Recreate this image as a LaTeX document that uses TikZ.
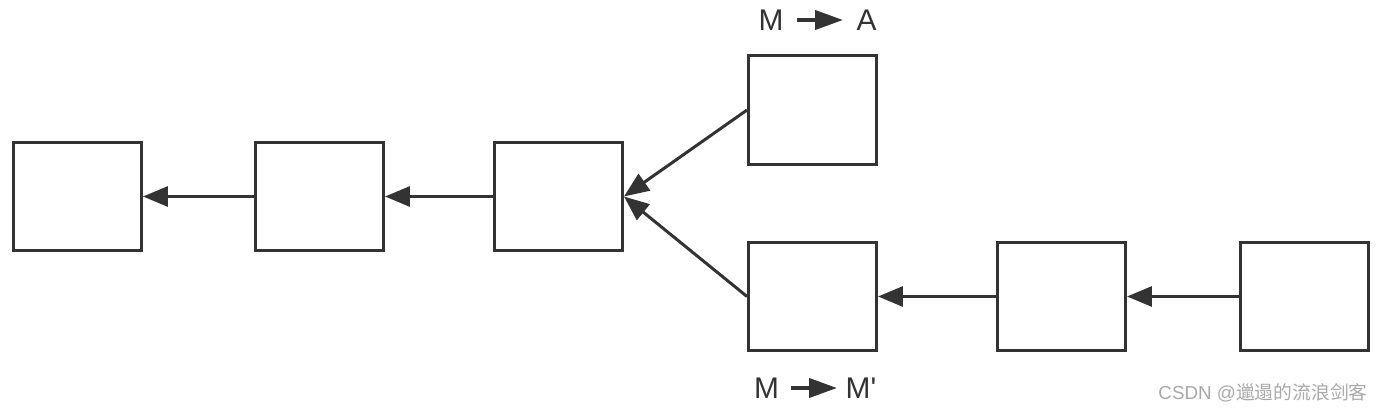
\documentclass[tikz,border=0pt]{standalone}
\usepackage{fontspec}
\setmainfont{Liberation Sans}
\newfontfamily\cjkfont{Noto Sans CJK SC}
\usetikzlibrary{arrows.meta}
\definecolor{inkgray}{HTML}{333333}
\definecolor{markgray}{HTML}{A8A8A8}
\begin{document}
\begin{tikzpicture}[x=0.02cm,y=-0.02cm,
    blockbox/.style={draw=inkgray,line width=3*0.02cm,minimum width=2.56cm,minimum height=2.18cm,inner sep=0pt},
    linkarrow/.style={draw=inkgray,line width=3*0.02cm,-{Triangle[length=0.5cm,width=0.4cm]}},
    keyarrow/.style={draw=inkgray,line width=4*0.02cm,-{Triangle[length=0.56cm,width=0.38cm]}},
    keytext/.style={text=inkgray,font=\fontsize{17}{17}\selectfont,inner sep=0pt}]
    \useasboundingbox (0,0) rectangle (1382,412);
    % chain of blocks
    \foreach \name/\x/\y in {b1/77.5/196.5,b2/319.5/196.5,b3/558.5/196.5,b4/812.5/110,b5/812.5/296.5,b6/1061.5/296.5,b7/1304.5/296.5} {
      \node[blockbox] (\name) at (\x,\y) {};
    }
    \foreach \from/\to in {b2/b1,b3/b2,b4/b3,b5/b3,b6/b5,b7/b6} {
      \draw[linkarrow] (\from.west) -- (\to.east);
    }
    % labels
    \node[keytext] (ma-m) at (771,20) {M};
    \node[keytext] (ma-a) at (866.5,20) {A};
    \draw[keyarrow] (797,20) -- (843,20);
    \node[keytext] (mm-m) at (766.5,388) {M};
    \node[keytext] (mm-p) at (861,388) {M\textquotesingle};
    \draw[keyarrow] (791,388) -- (837,388);
    \node[text=markgray,font=\fontsize{10.7}{10.7}\selectfont,inner sep=0pt,anchor=east] (mark) at (1368,393) {CSDN @{\cjkfont 邋遢的流浪剑客}};
  \end{tikzpicture}
\end{document}
